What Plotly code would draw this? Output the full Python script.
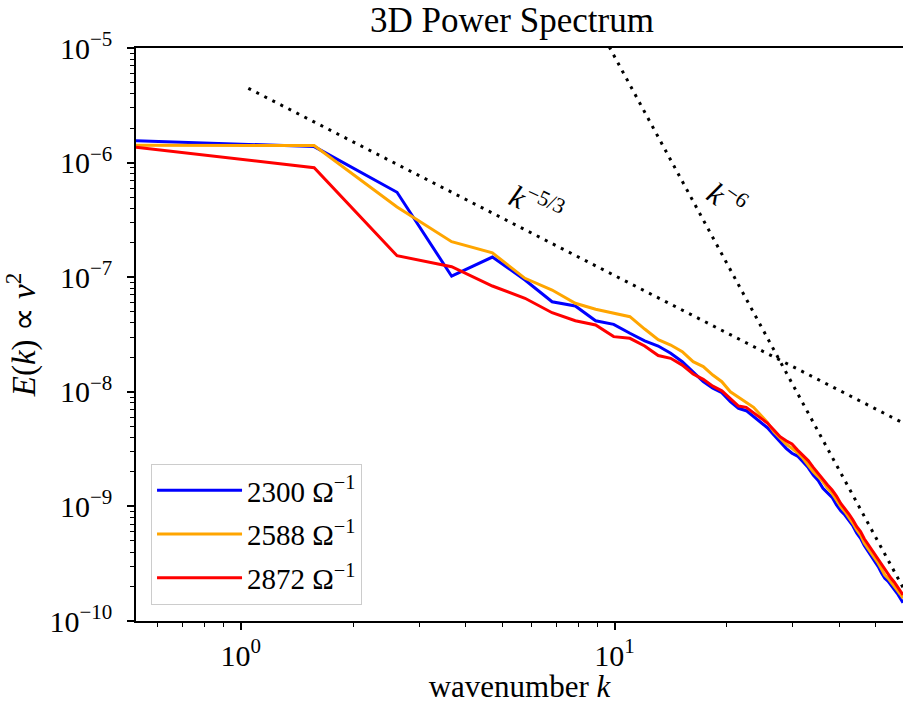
import math
import plotly.graph_objects as go

# wavenumbers k
k = [0.524, 1.571, 2.618, 3.665, 4.712, 5.760, 6.807, 7.854, 8.901, 9.948,
     10.996, 12.043, 13.090, 14.137, 15.184, 16.232, 17.279, 18.326, 19.373, 20.420,
     21.468, 22.515, 23.562, 24.609, 25.656, 26.704, 27.751, 28.798, 29.845, 30.892,
     31.940, 32.987, 34.034, 35.081, 36.128, 37.176, 38.223, 39.270, 40.317, 41.364,
     42.412, 43.459, 44.506, 45.553, 46.600, 47.648, 48.695, 49.742, 50.789, 51.836,
     52.884, 53.931, 54.978, 56.025, 57.072, 58.120, 59.167]

E_2300 = [1.55e-6, 1.38e-6, 5.51e-7, 1.02e-7, 1.50e-7, 9.45e-8, 6.11e-8, 5.61e-8, 4.17e-8, 3.88e-8,
          3.24e-8, 2.78e-8, 2.51e-8, 2.17e-8, 1.83e-8, 1.50e-8, 1.225e-8, 1.073e-8, 9.82e-9, 8.20e-9,
          7.18e-9, 6.84e-9, 6.06e-9, 5.48e-9, 4.86e-9, 4.20e-9, 3.67e-9, 3.21e-9, 2.91e-9, 2.75e-9,
          2.45e-9, 2.18e-9, 1.88e-9, 1.68e-9, 1.44e-9, 1.32e-9, 1.20e-9, 1.03e-9, 9.17e-10, 8.41e-10,
          7.46e-10, 6.75e-10, 5.83e-10, 5.27e-10, 4.56e-10, 4.08e-10, 3.64e-10, 3.34e-10, 2.98e-10, 2.62e-10,
          2.36e-10, 2.23e-10, 2.06e-10, 1.90e-10, 1.745e-10, 1.59e-10, 1.44e-10]

E_2588 = [1.42e-6, 1.41e-6, 4.10e-7, 2.04e-7, 1.63e-7, 9.78e-8, 7.73e-8, 5.92e-8, 5.25e-8, 4.84e-8,
          4.52e-8, 3.53e-8, 2.85e-8, 2.56e-8, 2.24e-8, 1.83e-8, 1.66e-8, 1.40e-8, 1.225e-8, 1.00e-8,
          8.95e-9, 8.20e-9, 7.32e-9, 6.27e-9, 5.40e-9, 4.48e-9, 3.93e-9, 3.50e-9, 3.21e-9, 2.94e-9,
          2.63e-9, 2.30e-9, 2.01e-9, 1.82e-9, 1.64e-9, 1.44e-9, 1.30e-9, 1.14e-9, 9.94e-10, 8.99e-10,
          8.08e-10, 7.12e-10, 6.22e-10, 5.63e-10, 4.79e-10, 4.34e-10, 3.94e-10, 3.55e-10, 3.19e-10, 2.84e-10,
          2.52e-10, 2.37e-10, 2.20e-10, 2.02e-10, 1.86e-10, 1.72e-10, 1.58e-10]

E_2872 = [1.36e-6, 9.03e-7, 1.54e-7, 1.235e-7, 8.38e-8, 6.55e-8, 4.90e-8, 4.17e-8, 3.83e-8, 3.03e-8,
          2.93e-8, 2.51e-8, 2.07e-8, 1.96e-8, 1.71e-8, 1.43e-8, 1.285e-8, 1.12e-8, 1.02e-8, 8.78e-9,
          7.52e-9, 7.32e-9, 6.57e-9, 5.87e-9, 5.34e-9, 4.64e-9, 4.06e-9, 3.74e-9, 3.50e-9, 3.10e-9,
          2.81e-9, 2.51e-9, 2.19e-9, 1.94e-9, 1.70e-9, 1.54e-9, 1.39e-9, 1.23e-9, 1.06e-9, 9.63e-10,
          8.58e-10, 7.61e-10, 6.65e-10, 6.02e-10, 5.22e-10, 4.70e-10, 4.22e-10, 3.77e-10, 3.41e-10, 3.08e-10,
          2.79e-10, 2.57e-10, 2.36e-10, 2.19e-10, 1.99e-10, 1.83e-10, 1.69e-10]

series_names = ["2300 Ω<sup>−1</sup>", "2588 Ω<sup>−1</sup>", "2872 Ω<sup>−1</sup>"]
series_colors = ["#0000ff", "#ffa500", "#ff0000"]

# reference power laws (endpoints)
ref_k = [1.047, 59.167]
ref_53 = [4.45e-6, 5.35e-9]
ref_6 = [6.40, 1.96e-10]

y_tickvals = [1e-10, 1e-9, 1e-8, 1e-7, 1e-6, 1e-5]
y_ticktext = ["10<sup>−10</sup>", "10<sup>−9</sup>", "10<sup>−8</sup>", "10<sup>−7</sup>",
              "10<sup>−6</sup>", "10<sup>−5</sup>"]
x_tickvals = [1, 10]
x_ticktext = ["10<sup>0</sup>", "10<sup>1</sup>"]
x_minor = [0.6, 0.7, 0.8, 0.9, 2, 3, 4, 5, 6, 7, 8, 9, 20, 30, 40, 50]
y_minor = [m * 10.0 ** e for e in range(-10, -5) for m in range(2, 10)]

FONT = "Liberation Serif"
TICK_FS = 30

fig = go.Figure()
for ys, nm, col in zip([E_2300, E_2588, E_2872], series_names, series_colors):
    fig.add_trace(go.Scatter(x=k, y=ys, mode="lines", name=nm, legendgroup=nm,
                             line=dict(color=col, width=3)))

fig.add_trace(go.Scatter(x=ref_k, y=ref_53, mode="lines", showlegend=False,
                         line=dict(color="black", width=3, dash="3px,6px")))
fig.add_trace(go.Scatter(x=ref_k, y=ref_6, mode="lines", showlegend=False,
                         line=dict(color="black", width=3, dash="3px,6px")))

axis_common = dict(type="log", showgrid=False, zeroline=False, showline=True,
                   linecolor="black", linewidth=1.5, ticks="outside", ticklen=7,
                   tickwidth=1.5, tickcolor="black",
                   tickfont=dict(family=FONT, size=TICK_FS, color="black"))

fig.update_xaxes(**axis_common, mirror=True,
                 range=[math.log10(k[0]), math.log10(k[-1])],
                 tickmode="array", tickvals=x_tickvals, ticktext=x_ticktext,
                 minor=dict(tickmode="array", tickvals=x_minor, ticks="outside",
                            ticklen=4, tickwidth=1.2, tickcolor="black"),
                 title=dict(text="wavenumber <i>k</i>", font=dict(family=FONT, size=31, color="black"),
                            standoff=6))
fig.update_yaxes(**axis_common,
                 range=[-10, -5], ticklabelstandoff=9,
                 tickmode="array", tickvals=y_tickvals, ticktext=y_ticktext,
                 minor=dict(tickmode="array", tickvals=y_minor, ticks="outside",
                            ticklen=4, tickwidth=1.2, tickcolor="black"),
                 title=dict(text="<i>E</i>(<i>k</i>) ∝ <i>v</i><sup>2</sup>",
                            font=dict(family=FONT, size=33, color="black"), standoff=5))

fig.add_annotation(x=0.7918, y=-6.3525, xref="x", yref="y", showarrow=False,
                   text="<i>k</i><sup>−5/3</sup>", textangle=25,
                   font=dict(family=FONT, size=31, color="black"))
fig.add_annotation(x=1.3015, y=-6.309, xref="x", yref="y", showarrow=False,
                   text="<i>k</i><sup>−6</sup>", textangle=35,
                   font=dict(family=FONT, size=31, color="black"))

fig.update_layout(
    width=903, height=704,
    margin=dict(l=136, r=0, t=48, b=83),
    plot_bgcolor="white", paper_bgcolor="white",
    title=dict(text="3D Power Spectrum", x=(512 - 136) / 767 * 1.0, xref="paper",
               xanchor="center", y=1 - 20 / 704, yanchor="middle",
               font=dict(family=FONT, size=35, color="black")),
    legend=dict(x=0.0196, y=0.028, xanchor="left", yanchor="bottom",
                bgcolor="rgba(255,255,255,0.8)", bordercolor="#cccccc", borderwidth=1,
                font=dict(family=FONT, size=29, color="black"), itemwidth=85,
                tracegroupgap=3),
    showlegend=True,
)

fig.write_html("out.html")
